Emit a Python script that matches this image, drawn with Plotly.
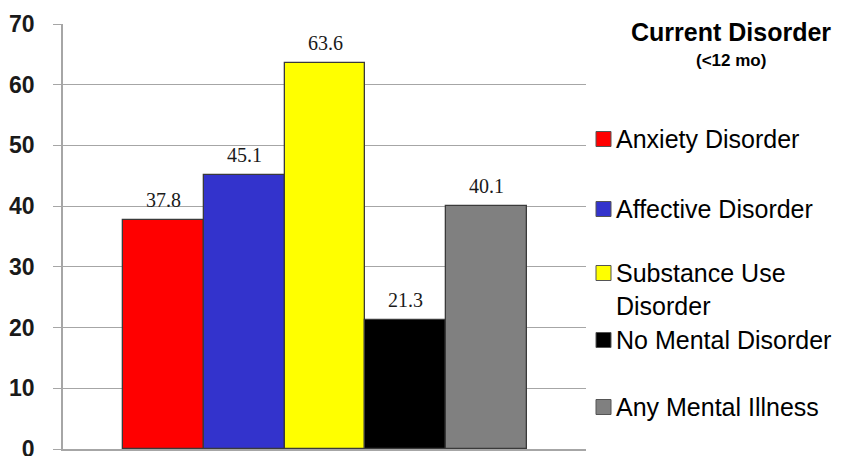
import plotly.graph_objects as go

# Prevalence (%) by current disorder group
categories = ["Anxiety Disorder", "Affective Disorder", "Substance Use Disorder",
              "No Mental Disorder", "Any Mental Illness"]
legend_labels = ["Anxiety Disorder", "Affective Disorder", "Substance Use<br>Disorder",
                 "No Mental Disorder", "Any Mental Illness"]
values = [37.8, 45.1, 63.6, 21.3, 40.1]
colors = ["#FF0000", "#3333CC", "#FFFF00", "#000000", "#808080"]
y_ticks = [0, 10, 20, 30, 40, 50, 60, 70]

W, H = 846, 456
L, R, T, B = 63, 260, 24, 7          # plot margins in px
plot_w, plot_h = W - L - R, H - T - B


def px_x(px):
    return (px - L) / plot_w


def px_y(py):
    return (H - B - py) / plot_h


fig = go.Figure()
fig.add_trace(go.Bar(
    x=categories, y=values, width=1.0,
    marker=dict(color=colors, line=dict(color="#3a3a3a", width=1.3)),
    showlegend=False, hoverinfo="x+y",
))

# value labels above each bar
for cat, v in zip(categories, values):
    fig.add_annotation(x=cat, y=v, text=f"{v:.1f}", showarrow=False,
                       xref="x", yref="y", yanchor="bottom", yshift=7,
                       font=dict(family="Liberation Serif", size=20, color="#1a1a1a"))

# legend title
fig.add_annotation(x=px_x(731), y=px_y(32), xref="paper", yref="paper",
                   text="<b>Current Disorder</b>", showarrow=False,
                   xanchor="center", yanchor="middle",
                   font=dict(family="Liberation Sans", size=25, color="#000000"))
fig.add_annotation(x=px_x(731), y=px_y(61), xref="paper", yref="paper",
                   text="<b>(<12 mo)</b>", showarrow=False,
                   xanchor="center", yanchor="middle",
                   font=dict(family="Liberation Sans", size=17, color="#000000"))

# legend entries: colour swatch + label
swatch_y = [139, 209, 273, 340, 407]
for lab, col, sy in zip(legend_labels, colors, swatch_y):
    fig.add_shape(type="rect", xref="paper", yref="paper",
                  x0=px_x(596), x1=px_x(611), y0=px_y(sy + 7.5), y1=px_y(sy - 7.5),
                  fillcolor=col, line=dict(color="#555555", width=1))
    fig.add_annotation(x=px_x(614), y=px_y(sy - 16), xref="paper", yref="paper",
                       text=lab, showarrow=False, xanchor="left", yanchor="top",
                       align="left",
                       font=dict(family="Liberation Sans", size=25, color="#000000"))

fig.update_layout(
    width=W, height=H,
    margin=dict(l=L, r=R, t=T, b=B, pad=0, autoexpand=False),
    paper_bgcolor="white", plot_bgcolor="white",
    bargap=0,
    xaxis=dict(type="category", range=[-1.243, 5.23], showticklabels=False,
               automargin=False,
               showgrid=False, zeroline=False, showline=True,
               linecolor="#A6A6A6", linewidth=1.5, ticks=""),
    yaxis=dict(range=[0, 70], tickvals=y_ticks,
               ticktext=[f"<b>{t}</b>" for t in y_ticks],
               ticklabeloverflow="allow", automargin=False,
               showgrid=True, gridcolor="#A6A6A6", gridwidth=1, zeroline=False,
               showline=True, linecolor="#A6A6A6", linewidth=1.5,
               ticks="outside", ticklen=8, tickcolor="#A6A6A6",
               ticklabelstandoff=14,
               tickfont=dict(family="Liberation Sans", size=23, color="#1a1a1a")),
)

fig.write_html("out.html")
